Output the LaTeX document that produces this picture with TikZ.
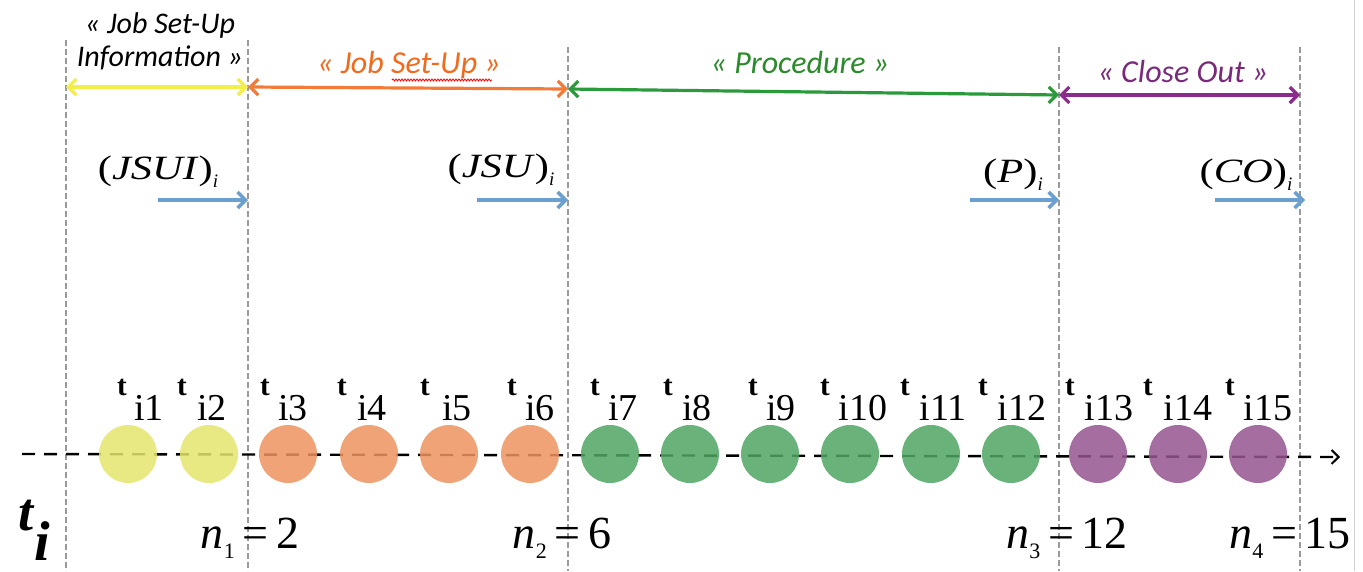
\documentclass[tikz,border=0pt]{standalone}
\usepackage{graphicx}
\usepackage{fontspec}
\setmainfont{Liberation Serif}
\newfontfamily\calfont{Carlito}
\usetikzlibrary{arrows.meta,decorations.pathmorphing}
\definecolor{yarrow}{HTML}{F2EE4A}
\definecolor{ycirc}{HTML}{E6E66E}
\definecolor{oarrow}{HTML}{F47A38}
\definecolor{otext}{HTML}{F26B1D}
\definecolor{ocirc}{HTML}{EE9460}
\definecolor{garrow}{HTML}{2A9A3A}
\definecolor{gtext}{HTML}{2B8A2B}
\definecolor{gcirc}{HTML}{4FA562}
\definecolor{parrow}{HTML}{8A2D8A}
\definecolor{ptext}{HTML}{7A2A7A}
\definecolor{pcirc}{HTML}{955690}
\definecolor{barrow}{HTML}{6A9FD0}
\definecolor{vgray}{HTML}{9A9A9A}
\begin{document}
\begin{tikzpicture}[x=1pt,y=-1pt,
  vline/.style={vgray,line width=2.4pt,dash pattern=on 6pt off 3pt},
  dbl/.style={line width=3.2pt,arrows={Straight Barb[length=8pt,width=16pt]-Straight Barb[length=8pt,width=16pt]}},
  blue arrow/.style={barrow,line width=3.5pt,arrows={-Straight Barb[length=8pt,width=16pt]}},
  lbl/.style={font=\calfont\itshape\fontsize{32}{34}\selectfont,inner sep=0pt,align=center},
  mlab/.style={font=\fontsize{34}{38}\selectfont,inner sep=0pt},
  dot/.style={circle,minimum size=58pt,inner sep=0pt,draw=none,fill opacity=0.85},
  tlab/.style={font=\bfseries\fontsize{29}{30}\selectfont,inner sep=0pt},
  ilab/.style={font=\fontsize{38}{40}\selectfont,inner sep=0pt},
  nlab/.style={font=\fontsize{46}{48}\selectfont,inner sep=0pt}]
\useasboundingbox (0,0) rectangle (1363,571);
\fill[white] (0,0) rectangle (1363,571);
\draw[gray!35,line width=1pt] (1354,0) -- (1354,571);
% vertical boundaries
\coordinate (v0t) at (66,40);   \coordinate (v0b) at (66,571);
\coordinate (v1t) at (248,40);  \coordinate (v1b) at (248,571);
\coordinate (v2t) at (568,47);  \coordinate (v2b) at (568,571);
\coordinate (v3t) at (1059,47); \coordinate (v3b) at (1059,571);
\coordinate (v4t) at (1300,47); \coordinate (v4b) at (1300,571);
\foreach \v in {0,...,4} {\draw[vline] (v\v t) -- (v\v b);}
% phase arrows
\coordinate (a0) at (66,87);
\coordinate (a1) at (248,87);
\coordinate (a2) at (568,89);
\coordinate (a3) at (1059,95);
\coordinate (a4) at (1300,95);
\draw[dbl,yarrow] (a0) -- (a1);
\draw[dbl,oarrow] (a1) -- (a2);
\draw[dbl,garrow] (a2) -- (a3);
\draw[dbl,parrow] (a3) -- (a4);
% phase labels
\node[lbl,font=\calfont\itshape\fontsize{30}{33}\selectfont] (ljsui) at (160,41) {« Job Set-Up\\Information »};
\node[lbl,text=otext] (ljsu) at (409,65) {« Job Set-Up »};
\draw[red,line width=0.8pt,decorate,decoration={snake,amplitude=1pt,segment length=3pt}] (392,80) -- (492,80);
\node[lbl,text=gtext] (lproc) at (800,62) {« Procedure »};
\node[lbl,text=ptext] (lclose) at (1183,72) {« Close Out »};
% math labels
\node[mlab] (mjsui) at (158,172) {\scalebox{1.25}[1]{(\textit{JSUI})}\raisebox{-8pt}{\fontsize{19}{19}\selectfont\textit{i}}};
\node[mlab] (mjsu) at (501,170) {\scalebox{1.25}[1]{(\textit{JSU})}\raisebox{-8pt}{\fontsize{19}{19}\selectfont\textit{i}}};
\node[mlab] (mp) at (1013,175) {\scalebox{1.25}[1]{(\textit{P})}\raisebox{-8pt}{\fontsize{19}{19}\selectfont\textit{i}}};
\node[mlab] (mco) at (1246,175) {\scalebox{1.25}[1]{(\textit{CO})}\raisebox{-8pt}{\fontsize{19}{19}\selectfont\textit{i}}};
% blue arrows
\coordinate (b1s) at (158,200); \coordinate (b1e) at (248,200);
\coordinate (b2s) at (477,200); \coordinate (b2e) at (568,200);
\coordinate (b3s) at (970,200); \coordinate (b3e) at (1059,200);
\coordinate (b4s) at (1215,200); \coordinate (b4e) at (1305,200);
\foreach \b in {1,...,4} {\draw[blue arrow] (b\b s) -- (b\b e);}
% timeline
\coordinate (ts) at (22,454);
\coordinate (te) at (1340,457);
\draw[black,line width=2.4pt,dash pattern=on 13pt off 9pt,arrows={-Straight Barb[length=7pt,width=14pt,line width=2pt]}] (ts) -- (te);
% circles and labels
\foreach \k/\cx/\tx/\ix/\col in {
  1/128/122/149/ycirc, 2/209/182/212/ycirc,
  3/288/265/293/ocirc, 4/369/342/372/ocirc, 5/449/425/457/ocirc, 6/530/512/540/ocirc,
  7/610/595/623/gcirc, 8/690/668/697/gcirc, 9/770/753/781/gcirc, 10/850/825/863/gcirc,
  11/931/905/943/gcirc, 12/1011/983/1022/gcirc,
  13/1098/1070/1109/pcirc, 14/1178/1148/1188/pcirc, 15/1258/1230/1268/pcirc} {
  \node[dot,fill=\col] (c\k) at (\cx,454) {};
  \node[tlab] (t\k) at (\tx,387) {t};
  \node[ilab] (i\k) at (\ix,408) {i\k};
}
% t_i
\node[font=\bfseries\itshape\fontsize{54}{54}\selectfont,inner sep=0pt] (bigt) at (26,516) {t};
\node[font=\bfseries\itshape\fontsize{56}{56}\selectfont,inner sep=0pt] (bigi) at (42,541) {i};
% n labels
\node[nlab] (n1) at (250,538) {\textit{n}\raisebox{-10pt}{\fontsize{22}{22}\selectfont 1}\,{=}\,2};
\node[nlab] (n2) at (562,538) {\textit{n}\raisebox{-10pt}{\fontsize{22}{22}\selectfont 2}\,{=}\,6};
\node[nlab] (n3) at (1067,538) {\textit{n}\raisebox{-10pt}{\fontsize{22}{22}\selectfont 3}\,{=}\,12};
\node[nlab] (n4) at (1290,538) {\textit{n}\raisebox{-10pt}{\fontsize{22}{22}\selectfont 4}\,{=}\,15};
\end{tikzpicture}
\end{document}
